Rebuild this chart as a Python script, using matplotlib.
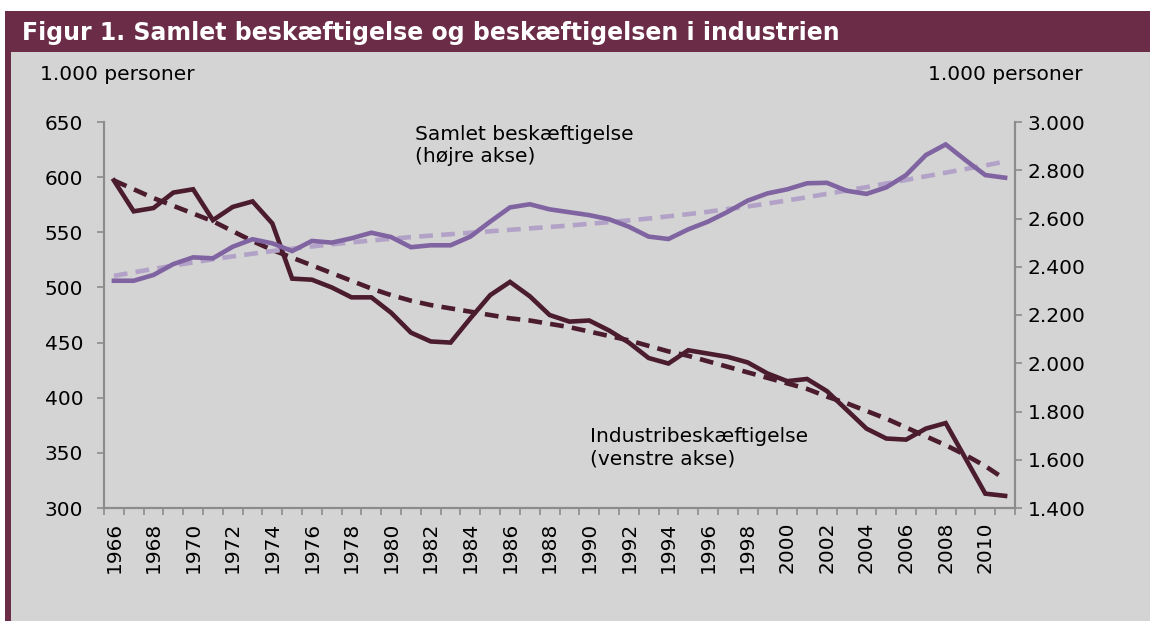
"""
Figur 1: Samlet beskaeftigelse (hoejre akse) og industribeskaeftigelse
(venstre akse), 1966-2011, med tendenslinjer.
"""

import matplotlib.pyplot as plt
from matplotlib.patches import Rectangle
from matplotlib.ticker import FuncFormatter

aar = list(range(1966, 2012))

# industribeskaeftigelse, 1.000 personer (venstre akse)
industri = [597, 569, 572, 586, 589, 561, 573, 578, 558, 508,
            507, 500, 491, 491, 477, 459, 451, 450, 472, 493,
            505, 492, 475, 469, 470, 461, 450, 436, 431, 443,
            440, 437, 432, 422, 415, 417, 406, 389, 372, 363,
            362, 372, 377, 345, 313, 311]
industri_trend = [597, 589, 581, 574, 567, 560, 551, 542, 534, 527,
                  520, 513, 506, 499, 493, 488, 484, 481, 478, 475,
                  472, 470, 467, 464, 460, 456, 452, 447, 442, 438,
                  433, 428, 423, 418, 413, 408, 401, 395, 388, 381,
                  373, 365, 357, 348, 338, 326]

# samlet beskaeftigelse, 1.000 personer (hoejre akse)
samlet = [2342, 2342, 2366, 2411, 2439, 2435, 2483, 2514, 2497, 2465,
          2507, 2500, 2518, 2541, 2523, 2481, 2489, 2489, 2525, 2587,
          2646, 2659, 2638, 2626, 2614, 2597, 2566, 2525, 2515, 2555,
          2587, 2628, 2674, 2704, 2721, 2746, 2748, 2715, 2702, 2729,
          2780, 2863, 2907, 2842, 2780, 2769]
samlet_trend = [2362, 2377, 2391, 2405, 2418, 2431, 2443, 2454, 2465, 2475,
                2484, 2493, 2501, 2509, 2516, 2523, 2529, 2535, 2541, 2547,
                2553, 2559, 2565, 2571, 2578, 2585, 2592, 2600, 2609, 2618,
                2628, 2639, 2650, 2662, 2675, 2688, 2702, 2716, 2730, 2745,
                2760, 2775, 2790, 2805, 2820, 2836]

titel = "Figur 1. Samlet beskæftigelse og beskæftigelsen i industrien"

LILLA_MOERK = "#6B2C47"
BAGGRUND = "#D4D4D4"
AKSE = "#8C8C8C"
FARVE_IND = "#4B1B2E"
FARVE_SAM = "#8064A2"
FARVE_SAM_TREND = "#B3A2C7"
FS = 14.5


def tusind(v, pos=None):
    return f"{v:,.0f}".replace(",", ".")


def main():
    fig = plt.figure(figsize=(11.5, 6.21), dpi=100)
    fig.patch.set_facecolor("white")

    # ramme: titelbjaelke, venstre kant og graa baggrund
    W, H = 1150, 621
    for (x0, y0, w, h, c) in [(5, 0, W, H - 52, LILLA_MOERK),
                              (11, 0, W, H - 52, BAGGRUND),
                              (5, H - 52, W, 41, LILLA_MOERK)]:
        fig.patches.append(Rectangle((x0 / W, y0 / H), w / W, h / H,
                                     transform=fig.transFigure, facecolor=c,
                                     edgecolor="none", zorder=-10))
    fig.text(22 / W, 1 - 33 / H, titel, color="white", fontsize=17,
             fontweight="bold", va="center", ha="left")

    ax = fig.add_axes([104 / W, 1 - 508 / H, (1015 - 104) / W, (508 - 122) / H])
    ax.set_facecolor("none")
    ax2 = ax.twinx()
    ax2.set_facecolor("none")

    x = list(range(len(aar)))
    lw = 3.3
    ax.plot(x, industri, color=FARVE_IND, lw=lw, solid_joinstyle="miter", zorder=3)
    ax.plot(x, industri_trend, color=FARVE_IND, lw=lw, dashes=(3, 1.8), zorder=3)
    ax2.plot(x, samlet_trend, color=FARVE_SAM_TREND, lw=lw, dashes=(3, 1.8), zorder=2)
    ax2.plot(x, samlet, color=FARVE_SAM, lw=lw, solid_joinstyle="miter", zorder=3)

    ax.set_xlim(-0.5, len(aar) - 0.5)
    ax.set_ylim(300, 650)
    ax2.set_ylim(1400, 3000)
    ax.set_yticks(range(300, 651, 50))
    ax2.set_yticks(range(1400, 3001, 200))
    ax2.yaxis.set_major_formatter(FuncFormatter(tusind))

    # kategoriakse: streger mellem aarene, etiketter hvert andet aar
    ax.set_xticks([i - 0.5 for i in range(len(aar) + 1)])
    ax.set_xticklabels([])
    ax.set_xticks([i for i in x if aar[i] % 2 == 0], minor=True)
    ax.set_xticklabels([str(a) for a in aar if a % 2 == 0], minor=True,
                       rotation=90, fontsize=FS)
    ax.tick_params(axis="x", which="major", length=5, width=1.2, color=AKSE)
    ax.tick_params(axis="x", which="minor", length=0, pad=10)
    ax.tick_params(axis="y", length=5, width=1.2, color=AKSE, labelsize=FS, pad=10)
    ax2.tick_params(axis="y", length=5, width=1.2, color=AKSE, labelsize=FS, pad=4)

    for a in (ax, ax2):
        a.spines["top"].set_visible(False)
        for s in ("left", "right", "bottom"):
            a.spines[s].set_color(AKSE)
            a.spines[s].set_linewidth(1.5)

    fig.text(40 / W, 1 - 74 / H, "1.000 personer", fontsize=FS, va="center", ha="left")
    fig.text(1083 / W, 1 - 74 / H, "1.000 personer", fontsize=FS, va="center", ha="right")

    fig.text(415 / W, 1 - 145 / H, "Samlet beskæftigelse\n(højre akse)", fontsize=FS,
             va="center", ha="left", linespacing=1.2)
    fig.text(590 / W, 1 - 448 / H, "Industribeskæftigelse\n(venstre akse)", fontsize=FS,
             va="center", ha="left", linespacing=1.2)

    fig.savefig("out.png", dpi=100)
    plt.close(fig)


if __name__ == "__main__":
    main()
